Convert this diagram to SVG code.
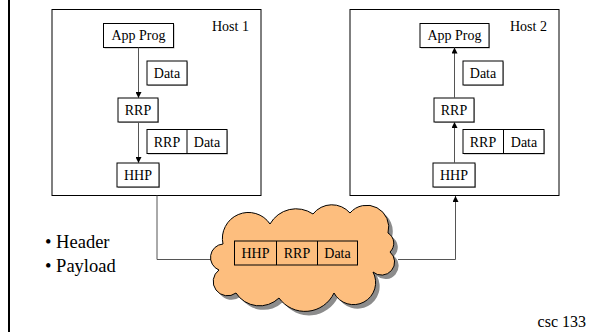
<svg xmlns="http://www.w3.org/2000/svg" width="590" height="332" viewBox="0 0 590 332">
<style>
.box{fill:#fff;stroke:#000;stroke-width:1}
.sh{fill:#b0b0b0}
.host{fill:#fff;stroke:#000;stroke-width:1}
.t{font-family:'Liberation Serif','Times New Roman',serif;font-size:14px;fill:#000}
.c{text-anchor:middle}
.ln{fill:none;stroke:#555;stroke-width:1}
</style>
<defs>
<marker id="ah" viewBox="0 0 6 6" refX="6" refY="3" markerWidth="6" markerHeight="6" markerUnits="userSpaceOnUse" orient="auto">
<path d="M0,0 L6,3 L0,6 Z" fill="#000"/>
</marker>
<path id="cloudp" d="M223,244 A26,26 0 0 1 270,224 A30,30 0 0 1 313,214 A24,24 0 0 1 350,213 A22,22 0 0 1 388,233 A12,12 0 0 1 390,252 A13,13 0 0 1 373,272 A22,22 0 0 1 334,293 A32,32 0 0 1 279,298 A28,28 0 0 1 236,293 A14,14 0 0 1 219,270 A13.5,13.5 0 0 1 223,244 Z"/>
</defs>
<rect x="0" y="0" width="590" height="332" fill="#fff"/>
<line x1="9" y1="0" x2="9" y2="332" stroke="#000" stroke-width="2"/>

<g id="host1">
<rect class="host" x="52" y="9.5" width="209" height="186"/>
<text class="t" x="212" y="31">Host 1</text>
</g>
<g id="h1-app"><rect class="sh" x="104.5" y="24.5" width="70" height="24"/><rect class="box" x="103.5" y="23.5" width="70" height="24"/><text class="t c" x="138.5" y="40">App Prog</text></g>
<g id="h1-data"><rect class="sh" x="148" y="62" width="40" height="24"/><rect class="box" x="147" y="61" width="40" height="24"/><text class="t c" x="167" y="78">Data</text></g>
<g id="h1-rrp"><rect class="sh" x="119" y="99" width="40" height="24"/><rect class="box" x="118" y="98" width="40" height="24"/><text class="t c" x="138" y="115">RRP</text></g>
<g id="h1-rrpdata"><rect class="sh" x="148" y="130.5" width="80" height="24"/><rect class="box" x="147" y="129.5" width="80" height="24"/><line x1="187" y1="129.5" x2="187" y2="153.5" stroke="#000"/><text class="t c" x="167" y="146.5">RRP</text><text class="t c" x="207" y="146.5">Data</text></g>
<g id="h1-hhp"><rect class="sh" x="118" y="164" width="42" height="24"/><rect class="box" x="117" y="163" width="42" height="24"/><text class="t c" x="138" y="180">HHP</text></g>

<g id="host2">
<rect class="host" x="350" y="9.5" width="209" height="186"/>
<text class="t" x="510" y="31">Host 2</text>
</g>
<g id="h2-app"><rect class="sh" x="421" y="24.5" width="69" height="24"/><rect class="box" x="420" y="23.5" width="69" height="24"/><text class="t c" x="454.5" y="40">App Prog</text></g>
<g id="h2-data"><rect class="sh" x="464" y="62" width="40" height="24"/><rect class="box" x="463" y="61" width="40" height="24"/><text class="t c" x="483" y="78">Data</text></g>
<g id="h2-rrp"><rect class="sh" x="435" y="99" width="40" height="24"/><rect class="box" x="434" y="98" width="40" height="24"/><text class="t c" x="454" y="115">RRP</text></g>
<g id="h2-rrpdata"><rect class="sh" x="464" y="130.5" width="81" height="24"/><rect class="box" x="463" y="129.5" width="81" height="24"/><line x1="503.5" y1="129.5" x2="503.5" y2="153.5" stroke="#000"/><text class="t c" x="483" y="146.5">RRP</text><text class="t c" x="524" y="146.5">Data</text></g>
<g id="h2-hhp"><rect class="sh" x="434" y="164" width="42" height="24"/><rect class="box" x="433" y="163" width="42" height="24"/><text class="t c" x="454" y="180">HHP</text></g>

<g id="connectors">
<line class="ln" x1="138.5" y1="47.5" x2="138.5" y2="98" marker-end="url(#ah)"/>
<line class="ln" x1="138.5" y1="122" x2="138.5" y2="163" marker-end="url(#ah)"/>
<line class="ln" x1="454.5" y1="98" x2="454.5" y2="47.5" marker-end="url(#ah)"/>
<line class="ln" x1="454.5" y1="163" x2="454.5" y2="122" marker-end="url(#ah)"/>
<polyline class="ln" points="157,195.5 157,259.5 212,259.5"/>
<polyline class="ln" points="398,259.5 455.5,259.5 455.5,196" marker-end="url(#ah)"/>
</g>

<g id="network">
<use href="#cloudp" transform="translate(4,4)" fill="#8c8c8c"/>
<use href="#cloudp" fill="#FDBE7E" stroke="#000" stroke-width="1"/>
<rect x="234.5" y="241" width="123" height="24" fill="none" stroke="#000"/>
<line x1="276.5" y1="241" x2="276.5" y2="265" stroke="#000"/>
<line x1="317.5" y1="241" x2="317.5" y2="265" stroke="#000"/>
<text class="t c" x="255.5" y="258">HHP</text>
<text class="t c" x="297" y="258">RRP</text>
<text class="t c" x="337.5" y="258">Data</text>
</g>

<g id="bullets" font-family="'Liberation Serif','Times New Roman',serif" font-size="18.5">
<text x="45" y="248">• Header</text>
<text x="45" y="272">• Payload</text>
</g>
<text x="586" y="327" text-anchor="end" font-family="'Liberation Serif','Times New Roman',serif" font-size="16">csc 133</text>
</svg>
